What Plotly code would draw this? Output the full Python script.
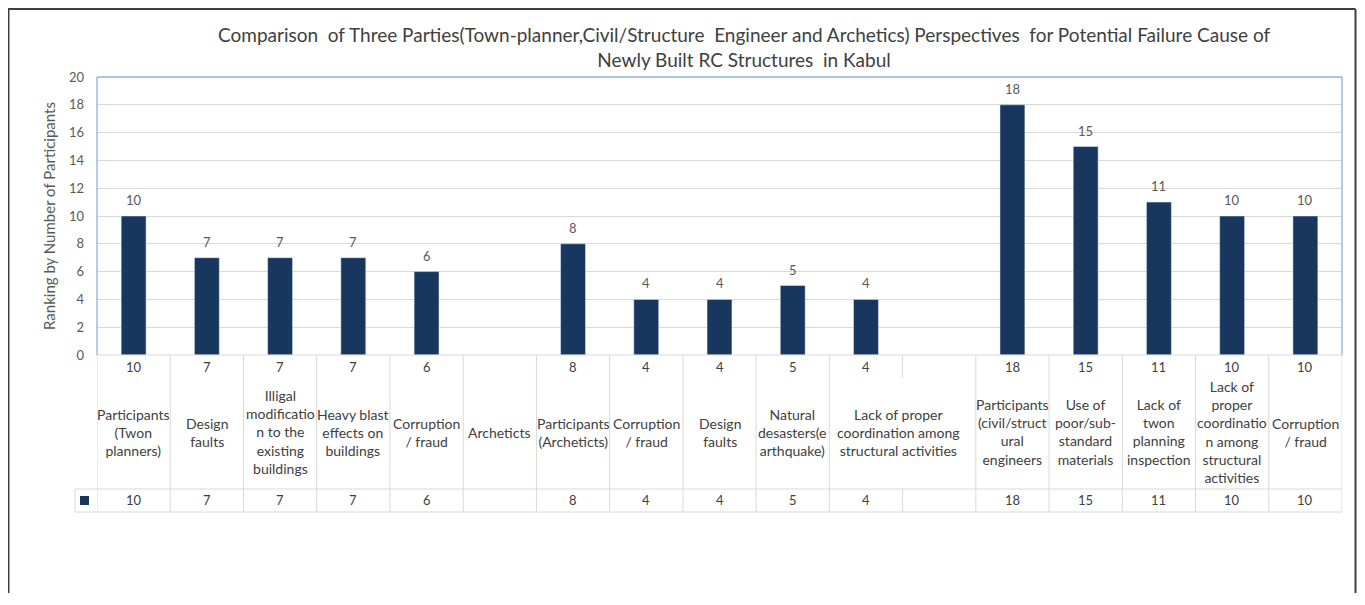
import plotly.graph_objects as go

# ---------------- data ----------------
categories = [
    "Participants<br>(Twon<br>planners)",
    "Design<br>faults",
    "Illigal<br>modificatio<br>n to the<br>existing<br>buildings",
    "Heavy blast<br>effects on<br>buildings",
    "Corruption<br>/ fraud",
    "Archeticts",
    "Participants<br>(Archeticts)",
    "Corruption<br>/ fraud",
    "Design<br>faults",
    "Natural<br>desasters(e<br>arthquake)",
    "Lack of proper<br>coordination among<br>structural activities",
    "",
    "Participants<br>(civil/struct<br>ural<br>engineers",
    "Use of<br>poor/sub-<br>standard<br>materials",
    "Lack of<br>twon<br>planning<br>inspection",
    "Lack of<br>proper<br>coordinatio<br>n among<br>structural<br>activities",
    "Corruption<br>/ fraud",
]
values = [10, 7, 7, 7, 6, None, 8, 4, 4, 5, 4, None, 18, 15, 11, 10, 10]
y_ticks = [0, 2, 4, 6, 8, 10, 12, 14, 16, 18, 20]

title_text = ("Comparison  of Three Parties(Town-planner,Civil/Structure  Engineer and Archetics) "
              "Perspectives  for Potential Failure Cause of<br>Newly Built RC Structures  in Kabul")
y_title = "Ranking by Number of Participants"

# ---------------- layout geometry ----------------
# page body has an 8px margin; all pixel values below are screen pixels
OFF = 8
W, H = 1365 - 2 * OFF, 605 - 2 * OFF - 4
L, R, T, B = 97, 1342, 77, 355   # plot area edges (screen px)
PW, PH = R - L, B - T

def px(xs_):   # screen x -> paper x
    return (xs_ - L) / PW

def py(ys_):   # screen y -> paper y
    return (B - ys_) / PH

BAR = "#17375e"
GRID = "#d9d9d9"
TXT = "#595959"
DARK = "#404040"
FONT = "Lato"

n = len(categories)
xs = list(range(n))

fig = go.Figure()
fig.add_trace(go.Bar(
    x=xs, y=values, marker_color=BAR, width=0.34,
    showlegend=False, hoverinfo="x+y",
))

shapes = []
annotations = []

# chart outer frame
FT = OFF + 1
FR = OFF + W - 1.5
for (x0, y0, x1, y1) in [(8.5, FT, 8.5, 640), (8, FT, FR, FT), (FR, FT, FR, 640)]:
    shapes.append(dict(type="line", xref="paper", yref="paper", x0=px(x0), x1=px(x1), y0=py(y0), y1=py(y1),
                       line=dict(color=DARK, width=2)))

# plot area border (blue left, top, right)
BLUE = "#8db3e2"
for (x0, y0, x1, y1) in [(0, 0, 0, 1), (0, 1, 1, 1), (1, 0, 1, 1)]:
    shapes.append(dict(type="line", xref="paper", yref="paper", x0=x0, x1=x1, y0=y0, y1=y1,
                       line=dict(color=BLUE, width=1.3)))

# data table grid
row_top = py(B)
row_lab = py(378)
row_val = py(489)
row_bot = py(512)
for k in range(n + 1):
    xb = k - 0.5
    if k == 11:  # label overflows across this boundary
        segs = [(row_top, row_lab), (row_val, row_bot)]
    else:
        segs = [(row_top, row_bot)]
    for (a, b) in segs:
        shapes.append(dict(type="line", xref="x", yref="paper", x0=xb, x1=xb, y0=a, y1=b,
                           line=dict(color=GRID, width=1)))
for yy in (row_val, row_bot):
    shapes.append(dict(type="line", xref="paper", yref="paper", x0=px(75), x1=1, y0=yy, y1=yy,
                       line=dict(color=GRID, width=1)))
shapes.append(dict(type="line", xref="paper", yref="paper", x0=px(75), x1=px(75), y0=row_val, y1=row_bot,
                   line=dict(color=GRID, width=1)))
# legend key
shapes.append(dict(type="rect", xref="paper", yref="paper", x0=px(80), x1=px(89), y0=py(505), y1=py(496),
                   fillcolor=BAR, line=dict(width=0)))
# bottom axis line
shapes.append(dict(type="line", xref="paper", yref="paper", x0=0, x1=1, y0=0, y1=0,
                   line=dict(color=GRID, width=1)))

CF = dict(size=13, color=DARK, family=FONT)
for i, (c, v) in enumerate(zip(categories, values)):
    vtxt = "" if v is None else str(v)
    if v is not None:
        # data label above bar
        annotations.append(dict(x=i, y=v, xref="x", yref="y", text=vtxt, showarrow=False,
                                font=dict(size=13, color=TXT, family=FONT), yanchor="bottom", yshift=6))
    annotations.append(dict(x=i, y=py(367), xref="x", yref="paper", text=vtxt, showarrow=False,
                            font=CF, yanchor="middle"))
    annotations.append(dict(x=i, y=py(500), xref="x", yref="paper", text=vtxt, showarrow=False,
                            font=CF, yanchor="middle"))
    if c:
        xc = i + 0.45 if i == 10 else i
        annotations.append(dict(x=xc, y=py(432), xref="x", yref="paper", text=c, showarrow=False,
                                font=dict(size=14, color=DARK, family=FONT), yanchor="middle",
                                align="center"))

# title
annotations.append(dict(x=px(744), y=py(47), xref="paper", yref="paper", text=title_text, showarrow=False,
                        font=dict(size=19, color=DARK, family=FONT), yanchor="middle", align="center"))

fig.update_layout(
    width=W, height=H,
    margin=dict(l=L - OFF, r=(OFF + W - R), t=T - OFF, b=(H + OFF - B), pad=0),
    paper_bgcolor="white", plot_bgcolor="white",
    font=dict(family=FONT, color=TXT, size=13),
    xaxis=dict(range=[-0.5, n - 0.5], showticklabels=False, showgrid=False, zeroline=False,
               showline=False, ticks=""),
    yaxis=dict(range=[0, 20], tickvals=y_ticks, showgrid=True, gridcolor=GRID, gridwidth=1,
               zeroline=False, showline=False, ticks="", ticklabelstandoff=12,
               tickfont=dict(size=13, color=TXT, family=FONT),
               title=dict(text=y_title, font=dict(size=15, color=TXT, family=FONT), standoff=9)),
    shapes=shapes, annotations=annotations,
)

fig.write_html("out.html")
